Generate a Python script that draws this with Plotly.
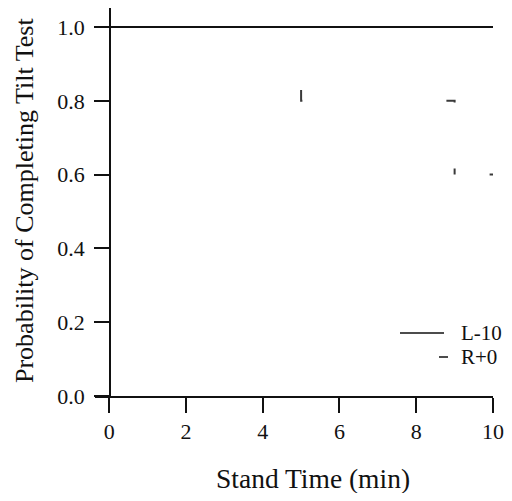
import plotly.graph_objects as go

# Kaplan-Meier style curves: probability of completing the tilt test vs stand time
L10_TIME = [-0.37, 10]
L10_PROB = [1.0, 1.0]

R0_TIME = [0, 5, 9, 10]
R0_PROB = [1.0, 0.8, 0.6, 0.6]

X_TICKS = [0, 2, 4, 6, 8, 10]
Y_TICKS = [0.0, 0.2, 0.4, 0.6, 0.8, 1.0]

FONT = "Liberation Serif, Times New Roman, serif"
INK = "#111111"

# the page body has an 8px margin and only 496px of width are visible
OFF = 8
W, H = 512 - 2 * OFF, 485
# plot area in window pixels: x 95..493, y 8..396
L, R, T, B = 95 - OFF, W - (493 - OFF), 8 - OFF, H - (396 - OFF)
XR = [-0.37, 10]
YR = [0, 1.0515]


def px(xp):
    # window pixel -> paper x
    return (xp - OFF - L) / (W - L - R)


def py(yp):
    # window pixel -> paper y
    return (H - B - (yp - OFF)) / (H - T - B)


fig = go.Figure()

fig.add_trace(go.Scatter(
    x=L10_TIME, y=L10_PROB, mode="lines", name="L-10",
    line=dict(color=INK, width=2), showlegend=False,
))

# the R+0 curve is drawn with a very sparse dash, so only small pieces show
fig.add_trace(go.Scatter(
    x=R0_TIME, y=R0_PROB, mode="lines", name="R+0", line_shape="hv",
    line=dict(color="#3a3a3a", width=2,
              dash="0px,255px,12px,144px,10px,66px,6px,35px,8px,300px"),
    showlegend=False,
))

# hand drawn legend
fig.add_shape(type="line", xref="paper", yref="paper",
              x0=px(400), x1=px(444), y0=py(333), y1=py(333),
              line=dict(color=INK, width=1.5))
fig.add_shape(type="line", xref="paper", yref="paper",
              x0=px(439), x1=px(448), y0=py(357), y1=py(357),
              line=dict(color=INK, width=1.5))
for label, yp in [("L-10", 333), ("R+0", 357)]:
    fig.add_annotation(text=label, xref="paper", yref="paper",
                       x=px(459), y=py(yp), xanchor="left", yanchor="middle",
                       showarrow=False, font=dict(family=FONT, size=21, color=INK))

# axis titles
fig.add_annotation(text="Stand Time (min)", xref="paper", yref="paper",
                   x=px(312.5), y=py(479), xanchor="center", yanchor="middle",
                   showarrow=False, font=dict(family=FONT, size=27.5, color=INK))
fig.add_annotation(text="Probability of Completing Tilt Test", textangle=-90,
                   xref="paper", yref="paper",
                   x=px(24), y=py(201), xanchor="center", yanchor="middle",
                   showarrow=False, font=dict(family=FONT, size=26, color=INK))

fig.update_layout(
    width=W, height=H,
    margin=dict(l=L, r=R, t=T, b=B),
    paper_bgcolor="white", plot_bgcolor="white",
    font=dict(family=FONT, size=22, color=INK),
    xaxis=dict(
        range=XR, tickvals=X_TICKS, ticks="outside", ticklen=15, tickwidth=1.5,
        tickcolor=INK, showline=True, linecolor=INK, linewidth=1.5,
        showgrid=False, zeroline=False, fixedrange=True,
        ticklabeloverflow="allow",
    ),
    yaxis=dict(
        range=YR, tickvals=Y_TICKS, tickformat=".1f",
        anchor="free", position=px(110),
        ticks="outside", ticklen=15, tickwidth=1.5, tickcolor=INK,
        ticklabelstandoff=5,
        showline=True, linecolor=INK, linewidth=1.5,
        showgrid=False, zeroline=False, fixedrange=True,
    ),
)

fig.write_html("out.html")
